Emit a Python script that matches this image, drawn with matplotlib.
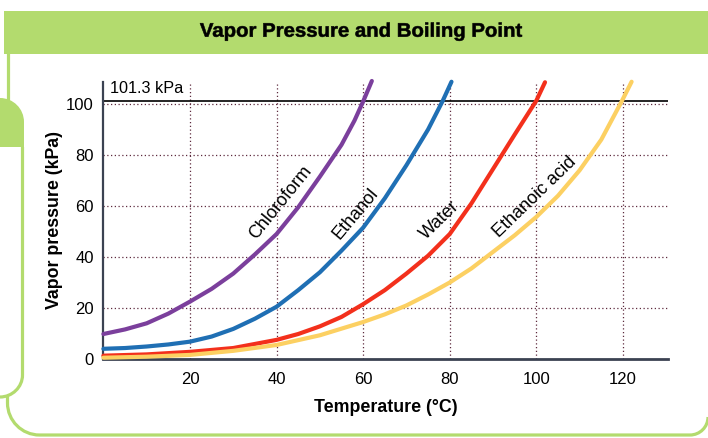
import matplotlib.pyplot as plt
from matplotlib.path import Path
from matplotlib.patches import PathPatch, Rectangle
from matplotlib.textpath import TextPath
from matplotlib.font_manager import FontProperties
from matplotlib.transforms import Affine2D

# temperatures (C) and vapor pressures (kPa)
chloro_t = [0, 5, 10, 15, 20, 25, 30, 35, 40, 45, 50, 55, 58, 60, 62]
chloro_p = [9.8, 11.6, 14, 17.8, 22.5, 27.5, 33.5, 41, 49, 59.5, 71.5, 84, 93.5, 101, 109]

ethanol_t = [0, 5, 10, 15, 20, 25, 30, 35, 40, 45, 50, 55, 60, 65, 70, 75, 78.4, 80.4]
ethanol_p = [4, 4.3, 4.9, 5.7, 6.8, 8.8, 11.8, 15.8, 20.5, 27, 34, 42.5, 51.5, 63, 76, 90, 101.3, 108.7]

water_t = [0, 10, 20, 30, 40, 45, 50, 55, 60, 65, 70, 75, 80, 85, 90, 95, 100, 102]
water_p = [1.3, 1.8, 2.8, 4.3, 7.5, 9.8, 12.8, 16.5, 21.5, 27, 33.5, 40.5, 49, 61, 74.5, 88, 101.3, 108.5]

acid_t = [0, 10, 20, 30, 40, 50, 60, 65, 70, 75, 80, 85, 90, 95, 100, 105, 110, 115, 119.8, 122]
acid_p = [0.5, 0.9, 1.6, 3.2, 5.5, 9.3, 14.5, 17.5, 21, 25.3, 30, 35.5, 42, 48.5, 55.7, 64, 74, 86, 101.3, 108.7]

names = ["Chloroform", "Ethanol", "Water", "Ethanoic acid"]
colors = ["#7b3f9c", "#1f6fb4", "#f3301c", "#fcd062"]
label_xy = [(40.9, 61.5), (58.3, 57.1), (77.6, 54.5), (99.7, 63.4)]
label_rot = [51, 50, 44, 44]

xticks = [20, 40, 60, 80, 100, 120]
yticks = [0, 20, 40, 60, 80, 100]

green = "#b3db6e"
plt.rcParams["font.family"] = ["Liberation Sans", "DejaVu Sans"]

fig = plt.figure(figsize=(7.08, 4.38), dpi=100)

# frame drawn in pixel coordinates
bg = fig.add_axes([0, 0, 1, 1], zorder=0)
bg.set_xlim(0, 708)
bg.set_ylim(438, 0)
bg.axis("off")
bg.add_patch(Rectangle((4, 11), 704, 43, color=green, lw=0))
bg.plot([8, 8], [54, 100], color=green, lw=2.3)
k = 0.5523
tab = Path([(0, 98), (24 * k, 98), (24, 122 - 24 * k), (24, 122), (24, 147), (0, 147), (0, 98)],
           [Path.MOVETO, Path.CURVE4, Path.CURVE4, Path.CURVE4, Path.LINETO, Path.LINETO, Path.CLOSEPOLY])
bg.add_patch(PathPatch(tab, color=green, lw=0))
r = 22
p1 = Path([(22.5, 147), (22.5, 375), (22.5, 375 + r * k), (r * k, 397), (0, 397)],
          [Path.MOVETO, Path.LINETO, Path.CURVE4, Path.CURVE4, Path.CURVE4])
bg.add_patch(PathPatch(p1, fill=False, edgecolor=green, lw=2.3))
r2 = 32
r3 = 18
p2 = Path([(7.5, 395), (7.5, 403), (7.5, 403 + r2 * k), (39.5 - r2 * k, 435), (39.5, 435),
           (690, 435), (690 + r3 * k, 435), (708, 417 + r3 * k), (708, 417)],
          [Path.MOVETO, Path.LINETO, Path.CURVE4, Path.CURVE4, Path.CURVE4,
           Path.LINETO, Path.CURVE4, Path.CURVE4, Path.CURVE4])
bg.add_patch(PathPatch(p2, fill=False, edgecolor=green, lw=2.3))

# condensed bold title: squeeze a text path horizontally
title = "Vapor Pressure and Boiling Point"
tp = TextPath((0, 0), title, size=19.6, prop=FontProperties(family="Liberation Sans", weight="bold"))
ext = tp.get_extents()
sx = 322 / ext.width
tr = Affine2D().translate(-ext.x0 - ext.width / 2, 0).scale(sx, -1).translate(361, 36.7)
bg.add_patch(PathPatch(tr.transform_path(tp), facecolor="black", edgecolor="black", lw=0.4))

ax = fig.add_axes([103.4 / 708, 1 - 359 / 438, 565 / 708, 277 / 438], zorder=1)
ax.patch.set_alpha(0)
ax.set_xlim(0, 130.5)
ax.set_ylim(0, 108.6)

grid_kw = dict(color="#5e2a3e", lw=0.9, ls=(0, (1, 2)), zorder=1)
for t in xticks:
    ax.axvline(t, **grid_kw)
for p in yticks[1:]:
    ax.axhline(p, **grid_kw)
ax.axhline(101.3, color="black", lw=1.2, zorder=2)
ax.text(1.5, 105.9, "101.3 kPa", fontsize=11.7, va="center", ha="left", zorder=3)

for t, p, c in zip([chloro_t, ethanol_t, water_t, acid_t],
                   [chloro_p, ethanol_p, water_p, acid_p], colors):
    ax.plot(t, p, color=c, lw=3, solid_capstyle="round", solid_joinstyle="round",
            clip_on=False, zorder=4)

for n, (x, y), rot in zip(names, label_xy, label_rot):
    ax.text(x, y, n, rotation=rot, ha="center", va="center", fontsize=13,
            rotation_mode="anchor", zorder=5)

for s in ["top", "right"]:
    ax.spines[s].set_visible(False)
for s in ["left", "bottom"]:
    ax.spines[s].set_color("#3b4252")
ax.spines["left"].set_linewidth(1.6)
ax.spines["bottom"].set_linewidth(2)
ax.set_xticks(xticks)
ax.set_yticks(yticks)
ax.tick_params(length=0, labelsize=12, pad=9)
ax.tick_params(axis="y", pad=7)
ax.set_xlabel("Temperature (°C)", fontsize=12.8, fontweight="bold", labelpad=9)
ax.set_ylabel("Vapor pressure (kPa)", fontsize=12.8, fontweight="bold", labelpad=2)

fig.savefig("out.png", dpi=100)
